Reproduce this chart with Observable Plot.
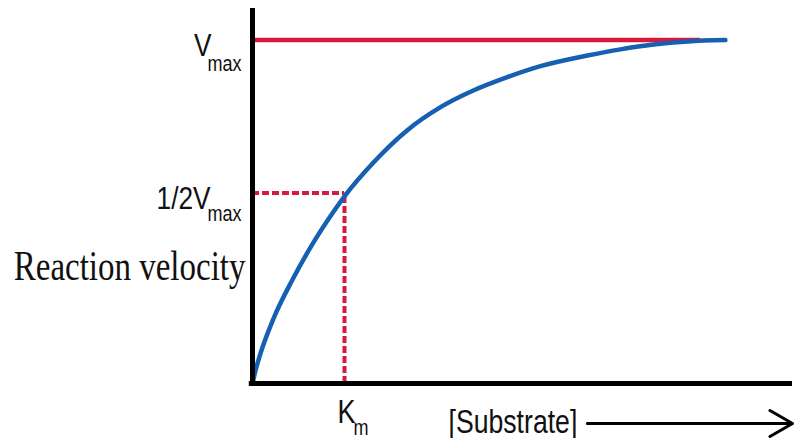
<!DOCTYPE html>
<html><head><meta charset="utf-8">
<script src="https://cdn.jsdelivr.net/npm/d3@7"></script>
<script src="https://cdn.jsdelivr.net/npm/@observablehq/plot@0.6"></script>
<style>html,body{margin:0;padding:0;background:#fff;overflow:hidden}</style>
</head><body><div id="chart"></div>
<script>
// Curve: substrate concentration (Km = 1) vs reaction velocity (% of Vmax)
const substrate = [0, 0.03, 0.09, 0.23, 0.43, 0.65, 0.88, 1.0, 1.32, 1.68, 2.04, 2.4, 2.77, 3.13, 3.64, 4.0, 4.36, 4.73, 5.14];
const velocity  = [0, 3.5, 9.0, 19.0, 30.0, 40.5, 50.0, 54.5, 64.5, 73.7, 80.4, 85.3, 89.2, 92.4, 95.5, 97.3, 98.7, 99.6, 100];
const Vmax = 100;
const halfVmax = 55.5;
const Km = 1.0;
const vmaxLineEnd = 4.87;
const xMax = 5.87;
const yMax = 109.2;
const arrowStart = 3.64;
const yLabel = "Reaction velocity";
const xLabel = "[Substrate]";

const curve = substrate.map((s, i) => ({s, v: velocity[i]}));

const sans = "'Liberation Sans', Arial, sans-serif";
const serif = "'Liberation Serif', 'Times New Roman', serif";
const red = "#d9183d";
const blue = "#1560b0";
const ink = "#111";

const chart = Plot.plot({
  width: 794, height: 438,
  margin: 0,
  style: {background: "#fff"},
  x: {domain: [0, xMax], range: [252, 792], axis: null},
  y: {domain: [0, yMax], range: [383, 8], axis: null},
  marks: [
    Plot.ruleY([halfVmax], {x1: 0, x2: Km, stroke: red, strokeWidth: 4, strokeDasharray: "7,3"}),
    Plot.ruleX([Km], {y1: 0, y2: halfVmax, stroke: red, strokeWidth: 4, strokeDasharray: "7,3"}),
    Plot.ruleY([Vmax], {x1: 0, x2: vmaxLineEnd, stroke: red, strokeWidth: 4.5}),
    Plot.line(curve, {x: "s", y: "v", stroke: blue, strokeWidth: 4.5, curve: "monotone-x", strokeLinecap: "round"}),
    Plot.ruleX([0], {y1: -0.9, y2: yMax, stroke: "#000", strokeWidth: 5}),
    Plot.ruleY([0], {x1: -0.035, x2: xMax, stroke: "#000", strokeWidth: 5}),
    // Vmax label
    Plot.text(["V"], {x: 0, y: Vmax, text: d => d, textAnchor: "end", lineAnchor: "bottom", dx: -41, dy: 15.5, fontSize: 32, fontFamily: sans, fill: ink}),
    Plot.text(["max"], {x: 0, y: Vmax, text: d => d, textAnchor: "end", lineAnchor: "bottom", dx: -11, dy: 30.5, fontSize: 22, fontFamily: sans, fill: ink}),
    // 1/2 Vmax label
    Plot.text(["1/2V"], {x: 0, y: halfVmax, text: d => d, textAnchor: "end", lineAnchor: "bottom", dx: -42, dy: 16, fontSize: 32, fontFamily: sans, fill: ink}),
    Plot.text(["max"], {x: 0, y: halfVmax, text: d => d, textAnchor: "end", lineAnchor: "bottom", dx: -11, dy: 28, fontSize: 22, fontFamily: sans, fill: ink}),
    // Km label
    Plot.text(["K"], {x: Km, y: 0, text: d => d, textAnchor: "start", lineAnchor: "bottom", dx: -7, dy: 39, fontSize: 33, fontFamily: sans, fill: ink}),
    Plot.text(["m"], {x: Km, y: 0, text: d => d, textAnchor: "start", lineAnchor: "bottom", dx: 9, dy: 51, fontSize: 22, fontFamily: sans, fill: ink}),
    // y label
    Plot.text([yLabel], {x: 0, y: 0, text: d => d, textAnchor: "end", lineAnchor: "bottom", dx: -7, dy: -104, fontSize: 33, fontFamily: serif, fill: ink}),
    // x label and arrow
    Plot.text([xLabel], {x: 0, y: 0, text: d => d, textAnchor: "start", lineAnchor: "bottom", dx: 196, dy: 49, fontSize: 32.5, fontFamily: sans, fill: ink}),
    Plot.arrow([{a: arrowStart, b: xMax}], {x1: "a", x2: "b", y1: 0, y2: 0, dy: 40, stroke: "#000", strokeWidth: 3, headLength: 13, headAngle: 60, bend: 0})
  ]
});
document.getElementById("chart").append(chart);
d3.select(chart).selectAll("text").each(function() {
  const t = d3.select(this);
  const s = this.textContent === yLabel ? " scale(1,1.28)" : " scale(0.82,1)";
  t.attr("transform", (t.attr("transform") || "") + s);
});
</script>
</body></html>
